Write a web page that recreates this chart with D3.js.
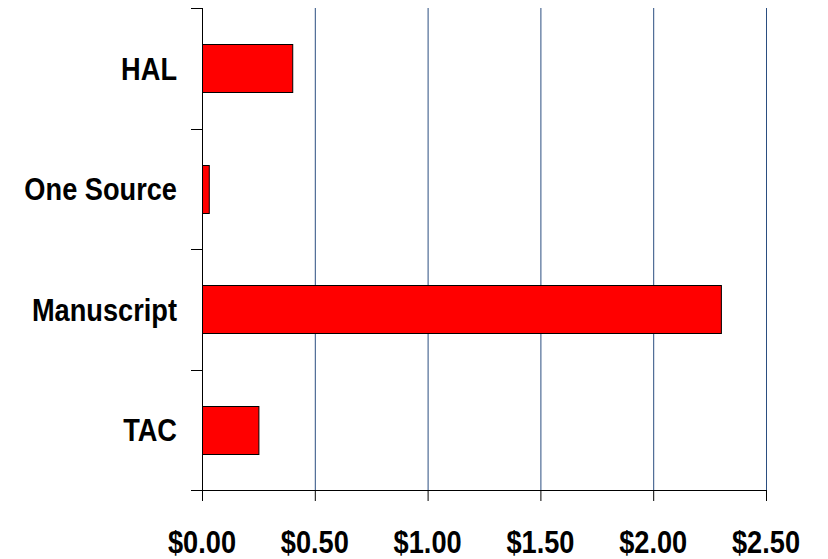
<!DOCTYPE html>
<html><head><meta charset="utf-8">
<script src="https://cdn.jsdelivr.net/npm/d3@7"></script>
<style>body{margin:0;background:#fff}svg{display:block}text{font-family:"Liberation Sans Narrow","Arial Narrow","Liberation Sans",sans-serif;font-weight:bold;fill:#000}</style>
</head><body><svg id="c" width="828" height="559"></svg>
<script>
const categories = ["HAL","One Source","Manuscript","TAC"];
const values = [0.40, 0.03, 2.30, 0.25];
const xTicks = [0, 0.5, 1.0, 1.5, 2.0, 2.5];

const svg = d3.select("#c");
const m = {l:202, r:766, t:8, b:490};
const x = d3.scaleLinear().domain([0,2.5]).range([m.l, m.r]);
const yb = d3.scaleBand().domain(categories).range([m.t, m.b]);
const sx = 0.85;
const fs = 32;

// gridlines
svg.append("g").selectAll("line").data(xTicks.slice(1)).join("line")
  .attr("x1", d=>x(d)+0.5).attr("x2", d=>x(d)+0.5).attr("y1", m.t).attr("y2", m.b)
  .attr("stroke", "#2b4e80").attr("stroke-width", 1);

// bars
svg.append("g").selectAll("rect").data(values).join("rect")
  .attr("x", x(0)+0.5).attr("y", (d,i)=>Math.round(yb(categories[i]) + yb.bandwidth()/2 - 24)+0.5)
  .attr("width", d=>x(d)-x(0)).attr("height", 48)
  .attr("fill", "#ff0000").attr("stroke", "#000").attr("stroke-width", 1);

// y axis
const ya = svg.append("g");
ya.append("line").attr("x1", m.l+0.5).attr("x2", m.l+0.5).attr("y1", m.t).attr("y2", m.b).attr("stroke","#000");
const yTickPos = categories.map(c=>yb(c)).concat([m.b]);
ya.selectAll("line.t").data(yTickPos).join("line").attr("class","t")
  .attr("x1", m.l-11).attr("x2", m.l).attr("y1", d=>Math.round(d)+0.5).attr("y2", d=>Math.round(d)+0.5).attr("stroke","#000");
ya.selectAll("text").data(categories).join("text")
  .attr("transform", d=>`translate(177,${yb(d)+yb.bandwidth()/2}) scale(${sx},1)`)
  .attr("dy","0.36em")
  .attr("text-anchor","end").attr("font-size", fs).text(d=>d);

// x axis
const xa = svg.append("g");
xa.append("line").attr("x1", m.l-11).attr("x2", m.r+0.5).attr("y1", m.b+0.5).attr("y2", m.b+0.5).attr("stroke","#000");
xa.selectAll("line.t").data(xTicks).join("line").attr("class","t")
  .attr("x1", d=>x(d)+0.5).attr("x2", d=>x(d)+0.5).attr("y1", m.b).attr("y2", m.b+11).attr("stroke","#000");
xa.selectAll("text").data(xTicks).join("text")
  .attr("transform", d=>`translate(${x(d)},553) scale(${sx},1)`)
  .attr("text-anchor","middle").attr("font-size", fs)
  .text(d=>"$"+d.toFixed(2));
</script></body></html>
